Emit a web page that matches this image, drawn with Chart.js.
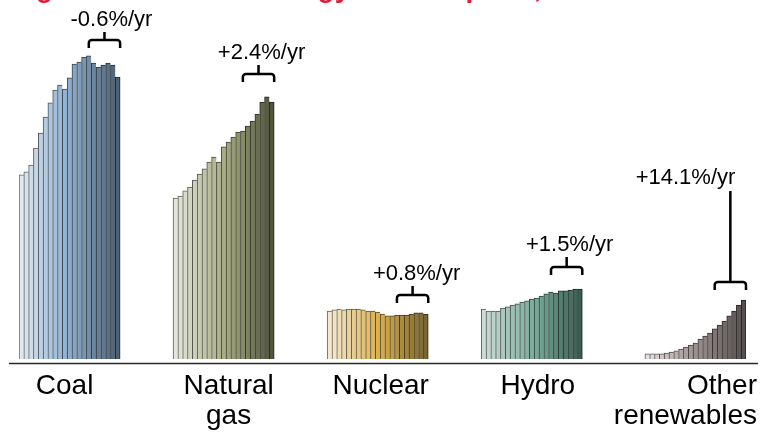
<!DOCTYPE html>
<html>
<head>
<meta charset="utf-8">
<script src="https://cdn.jsdelivr.net/npm/chart.js@4"></script>
<style>
  html, body { margin: 0; padding: 0; background: #ffffff; }
  canvas { display: block; }
</style>
</head>
<body>
<canvas id="chart" width="764" height="437"></canvas>
<script>
// World primary energy consumption by source, exajoules, 2000-2020
const years = ['2000','2001','2002','2003','2004','2005','2006','2007','2008','2009','2010',
               '2011','2012','2013','2014','2015','2016','2017','2018','2019','2020'];
const categories = ['Coal', 'Natural gas', 'Nuclear', 'Hydro', 'Other renewables'];
const coal = [97.9, 99.5, 103.2, 112.2, 120.2, 128.7, 136.2, 143.1, 145.7, 143.6, 149.5,
              156.9, 158.0, 160.6, 161.2, 157.4, 155.3, 156.4, 157.4, 156.4, 150.0];
const naturalGas = [85.6, 86.7, 89.4, 91.5, 95.2, 98.4, 101.1, 104.8, 107.4, 104.8, 112.8,
                    115.4, 118.1, 120.7, 121.3, 123.9, 126.6, 130.3, 136.7, 139.4, 136.7];
const nuclear = [25.5, 26.1, 26.6, 26.1, 26.6, 26.6, 26.6, 26.1, 25.5, 25.5, 25.0,
                 23.9, 22.9, 22.9, 23.4, 23.4, 23.4, 23.9, 24.5, 24.5, 23.9];
const hydro = [26.6, 25.5, 25.5, 25.5, 27.1, 27.7, 28.7, 29.3, 30.3, 30.9, 31.9,
               32.4, 33.5, 34.6, 35.6, 35.1, 36.2, 36.2, 36.7, 37.2, 37.2];
const otherRenewables = [2.7, 2.7, 2.7, 2.7, 3.2, 3.7, 4.3, 5.3, 6.4, 7.4, 8.5,
                         10.6, 12.2, 13.8, 16.0, 18.1, 20.2, 22.9, 25.5, 28.7, 31.4];
const growthLabels = ['-0.6%/yr', '+2.4%/yr', '+0.8%/yr', '+1.5%/yr', '+14.1%/yr'];
const titleText = 'Big shifts in world energy consumption, 2000\u20132020';

const series = [coal, naturalGas, nuclear, hydro, otherRenewables];

// Slot layout on the category axis: each source gets a run of yearly slots, runs separated by empty slots
const groupStart = [0, 32, 64, 96, 130];
const totalSlots = 151;
const bracketFrom = 14;   // bracket spans the most recent years of each run

// Light-to-dark colour ramps for each source
const ramps = [
  [['#dfe8ef', 0], ['#93b3d3', 0.45], ['#4e6172', 1]],
  [['#e4e6dc', 0], ['#a8ad84', 0.5], ['#50553c', 1]],
  [['#f5e8d0', 0], ['#d9b253', 0.5], ['#7a6631', 1]],
  [['#cddbd6', 0], ['#76a898', 0.55], ['#3c5c52', 1]],
  [['#e6dedd', 0], ['#9c8f8f', 0.5], ['#55504f', 1]]
];

function hexRgb(h) {
  return [parseInt(h.slice(1, 3), 16), parseInt(h.slice(3, 5), 16), parseInt(h.slice(5, 7), 16)];
}
function rampColor(stops, t, dark) {
  let i = 0;
  while (i < stops.length - 2 && t > stops[i + 1][1]) i++;
  const [c0, p0] = stops[i], [c1, p1] = stops[i + 1];
  const f = Math.min(1, Math.max(0, (t - p0) / (p1 - p0)));
  const a = hexRgb(c0), b = hexRgb(c1);
  const k = dark ? 0.42 : 1;
  const rgb = a.map((v, j) => Math.round((v + (b[j] - v) * f) * k));
  return `rgb(${rgb[0]},${rgb[1]},${rgb[2]})`;
}

const slotLabels = new Array(totalSlots).fill('');
const datasets = series.map((vals, g) => {
  const data = new Array(totalSlots).fill(null);
  const bg = new Array(totalSlots).fill('transparent');
  const bd = new Array(totalSlots).fill('transparent');
  vals.forEach((v, i) => {
    const s = groupStart[g] + i;
    data[s] = v;
    slotLabels[s] = years[i];
    const t = i / (vals.length - 1);
    bg[s] = rampColor(ramps[g], t, false);
    bd[s] = rampColor(ramps[g], t, true);
  });
  return {
    label: categories[g],
    data,
    backgroundColor: bg,
    borderColor: bd,
    borderSkipped: false,
    borderWidth: (c) => ({
      left: 1, top: 1, bottom: 0,
      right: c.dataIndex === groupStart[g] + vals.length - 1 ? 1 : 0
    }),
    barPercentage: 1,
    categoryPercentage: 1
  };
});

// Per-source placement of the category names and growth-rate notes
const labelLayout = [
  { align: 'center', dx: -5 },
  { align: 'center', dx: 5 },
  { align: 'center', dx: 3 },
  { align: 'center', dx: 6 },
  { align: 'right', dx: 11 }
];
const noteLayout = [
  { gap: 8, stem: 8, dx: 7 },
  { gap: 15, stem: 9, dx: 3 },
  { gap: 10, stem: 9, dx: 4 },
  { gap: 14, stem: 10, dx: 3 },
  { gap: 10, stem: 91, dx: null }
];

const FONT = '"Liberation Sans", Arial, Helvetica, sans-serif';

const decorations = {
  id: 'decorations',
  afterDraw(chart) {
    const { ctx, chartArea, scales } = chart;
    ctx.save();

    // Title (sits above the visible canvas edge)
    ctx.fillStyle = '#e31937';
    ctx.font = 'bold 28px ' + FONT;
    ctx.textAlign = 'left';
    ctx.textBaseline = 'alphabetic';
    ctx.fillText(titleText, 8, -3);

    // Baseline rule
    const axisY = chartArea.bottom + 4.5;
    ctx.strokeStyle = '#2a2a2a';
    ctx.lineWidth = 1.5;
    ctx.beginPath();
    ctx.moveTo(chartArea.left - 10, axisY);
    ctx.lineTo(chartArea.right + 12, axisY);
    ctx.stroke();

    series.forEach((vals, g) => {
      const meta = chart.getDatasetMeta(g);
      const first = meta.data[groupStart[g]];
      const last = meta.data[groupStart[g] + vals.length - 1];
      const left = first.x - first.width / 2;
      const right = last.x + last.width / 2;

      // Category name below the rule
      const lay = labelLayout[g];
      const lines = categories[g].split(' ');
      ctx.fillStyle = '#000000';
      ctx.font = '28px ' + FONT;
      ctx.textAlign = lay.align;
      const lx = lay.align === 'right' ? right + lay.dx : (left + right) / 2 + lay.dx;
      lines.forEach((ln, k) => ctx.fillText(ln, lx, chartArea.bottom + 35 + k * 30));

      // Bracket over the most recent years
      const note = noteLayout[g];
      const from = meta.data[groupStart[g] + bracketFrom];
      const x1 = from.x;
      const x2 = right;
      const xm = (x1 + x2) / 2;
      const peak = Math.max(...vals.slice(bracketFrom));
      const yEnd = scales.y.getPixelForValue(peak) - note.gap;
      const yH = yEnd - 8;
      const stemTop = yH - note.stem;
      const r = 3;
      ctx.strokeStyle = '#000000';
      ctx.lineWidth = 2.5;
      ctx.lineJoin = 'round';
      ctx.beginPath();
      ctx.moveTo(x1, yEnd);
      ctx.arcTo(x1, yH, x1 + r, yH, r);
      ctx.lineTo(x2 - r, yH);
      ctx.arcTo(x2, yH, x2, yH + r, r);
      ctx.lineTo(x2, yEnd);
      ctx.moveTo(xm, yH);
      ctx.lineTo(xm, stemTop);
      ctx.stroke();

      // Growth-rate note
      ctx.font = '22px ' + FONT;
      if (note.dx === null) {
        ctx.textAlign = 'right';
        ctx.fillText(growthLabels[g], xm + 5, stemTop - 7);
      } else {
        ctx.textAlign = 'center';
        ctx.fillText(growthLabels[g], xm + note.dx, stemTop - 6);
      }
    });

    ctx.restore();
  }
};

new Chart(document.getElementById('chart'), {
  type: 'bar',
  data: { labels: slotLabels, datasets },
  options: {
    responsive: false,
    animation: false,
    devicePixelRatio: 1,
    layout: { padding: { left: 19, right: 18, top: 39.4, bottom: 78 } },
    plugins: {
      legend: { display: false },
      tooltip: { enabled: false },
      title: { display: false }
    },
    scales: {
      x: { display: false, stacked: true, offset: true, grid: { display: false } },
      y: { display: false, stacked: true, min: 0, max: 170, grid: { display: false } }
    }
  },
  plugins: [decorations]
});
</script>
</body>
</html>
